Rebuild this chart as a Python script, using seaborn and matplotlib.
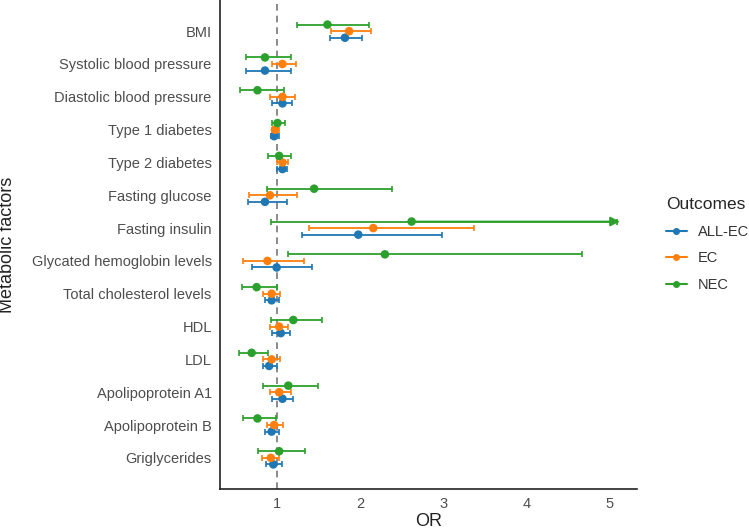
import numpy as np
import pandas as pd
import matplotlib
matplotlib.use("Agg")
import matplotlib.pyplot as plt
import seaborn as sns

# factors from top to bottom
factors = ['BMI', 'Systolic blood pressure', 'Diastolic blood pressure', 'Type 1 diabetes',
           'Type 2 diabetes', 'Fasting glucose', 'Fasting insulin', 'Glycated hemoglobin levels',
           'Total cholesterol levels', 'HDL', 'LDL', 'Apolipoprotein A1', 'Apolipoprotein B',
           'Griglycerides']

# odds ratios and 95% CI
allec_or = [1.82, 0.86, 1.07, 0.97, 1.07, 0.86, 1.98, 1.00, 0.94, 1.05, 0.91, 1.07, 0.94, 0.96]
allec_lo = [1.64, 0.63, 0.95, 0.93, 1.00, 0.66, 1.30, 0.70, 0.86, 0.95, 0.84, 0.95, 0.86, 0.87]
allec_hi = [2.03, 1.17, 1.19, 1.03, 1.13, 1.13, 2.99, 1.42, 1.03, 1.16, 1.00, 1.20, 1.03, 1.06]

ec_or = [1.87, 1.07, 1.07, 0.98, 1.07, 0.92, 2.16, 0.89, 0.94, 1.03, 0.94, 1.03, 0.97, 0.93]
ec_lo = [1.65, 0.95, 0.92, 0.94, 1.00, 0.67, 1.39, 0.60, 0.84, 0.92, 0.84, 0.92, 0.88, 0.82]
ec_hi = [2.13, 1.23, 1.22, 1.03, 1.14, 1.24, 3.37, 1.33, 1.04, 1.14, 1.04, 1.17, 1.08, 1.03]

nec_or = [1.61, 0.86, 0.77, 1.01, 1.03, 1.45, 2.62, 2.30, 0.76, 1.20, 0.70, 1.14, 0.77, 1.03]
nec_lo = [1.24, 0.63, 0.56, 0.94, 0.90, 0.88, 0.93, 1.14, 0.58, 0.93, 0.55, 0.84, 0.60, 0.78]
nec_hi = [2.11, 1.17, 1.09, 1.10, 1.17, 2.39, 6.20, 4.66, 1.00, 1.54, 0.90, 1.50, 0.99, 1.34]

outcomes = ['ALL-EC', 'EC', 'NEC']
colors = {'ALL-EC': '#1f77b4', 'EC': '#ff7f0e', 'NEC': '#2ca02c'}
offsets = {'ALL-EC': 0.2, 'EC': 0.0, 'NEC': -0.2}

rows = []
for name, orv, lo, hi in [('ALL-EC', allec_or, allec_lo, allec_hi),
                          ('EC', ec_or, ec_lo, ec_hi),
                          ('NEC', nec_or, nec_lo, nec_hi)]:
    for i, f in enumerate(factors):
        rows.append({'factor': f, 'Outcomes': name, 'OR': orv[i], 'lo': lo[i], 'hi': hi[i],
                     'pos': i + offsets[name]})
df = pd.DataFrame(rows)

sns.set_theme(style='white')
plt.rcParams['font.family'] = ['Liberation Sans', 'DejaVu Sans']

xmin, xmax = 0.32, 5.325
clip = 5.12  # CIs wider than this get cut with an arrow

fig = plt.figure(figsize=(7.49, 5.32), dpi=100)
ax = fig.add_axes([0.2937, 0.0808, 0.5567, 0.9192])

ax.axvline(1, color='#777777', linestyle=(0, (4, 3)), linewidth=1.2, zorder=1)

# confidence intervals, clipped with an arrow
for name in outcomes:
    d = df[df['Outcomes'] == name]
    hi_clip = d['hi'].clip(upper=clip - 0.03)
    ax.errorbar(d['OR'], d['pos'],
                xerr=[d['OR'] - d['lo'], hi_clip - d['OR']],
                fmt='none', ecolor=colors[name], elinewidth=1.3, capsize=2.2,
                capthick=1.2, zorder=2)
    for _, r in d[d['hi'] > clip].iterrows():
        ax.annotate('', xy=(clip, r['pos']), xytext=(r['OR'], r['pos']),
                    arrowprops=dict(arrowstyle='-|>', color=colors[name], lw=1.3,
                                    mutation_scale=14, shrinkA=0, shrinkB=0))

sns.scatterplot(data=df, x='OR', y='pos', hue='Outcomes', hue_order=outcomes,
                palette=colors, s=38, edgecolor='none', legend=False, zorder=3, ax=ax)

ax.set_xlim(xmin, xmax)
ax.set_ylim(13.95, -0.95)
ax.set_yticks(range(len(factors)))
ax.set_yticklabels(factors)
ax.set_xticks([1, 2, 3, 4, 5])
ax.tick_params(axis='both', length=0, labelsize=10.5, labelcolor='#4d4d4d', pad=6)
ax.set_xlabel('OR', fontsize=13, color='#222222', labelpad=1)
ax.set_ylabel('')
fig.text(8 / 749, 1 - 245 / 532, 'Metabolic factors', rotation=90, ha='center', va='center',
         fontsize=13, color='#222222')

for s in ['top', 'right']:
    ax.spines[s].set_visible(False)
for s in ['left', 'bottom']:
    ax.spines[s].set_color('#222222')
    ax.spines[s].set_linewidth(1.2)

handles = [plt.Line2D([], [], color=colors[n], marker='o', markersize=4, linewidth=1.5)
           for n in outcomes]
leg = fig.legend(handles, outcomes, title='Outcomes', loc='upper left',
                 bbox_to_anchor=(0.889, 0.629), frameon=False, fontsize=10.5,
                 title_fontsize=12.5, handlelength=1.45, handletextpad=0.75,
                 labelspacing=0.86, borderpad=0, borderaxespad=0)
leg._legend_box.align = 'left'
leg._legend_box.sep = 9
for t in leg.get_texts():
    t.set_color('#333333')

fig.savefig('out.png', dpi=100)
